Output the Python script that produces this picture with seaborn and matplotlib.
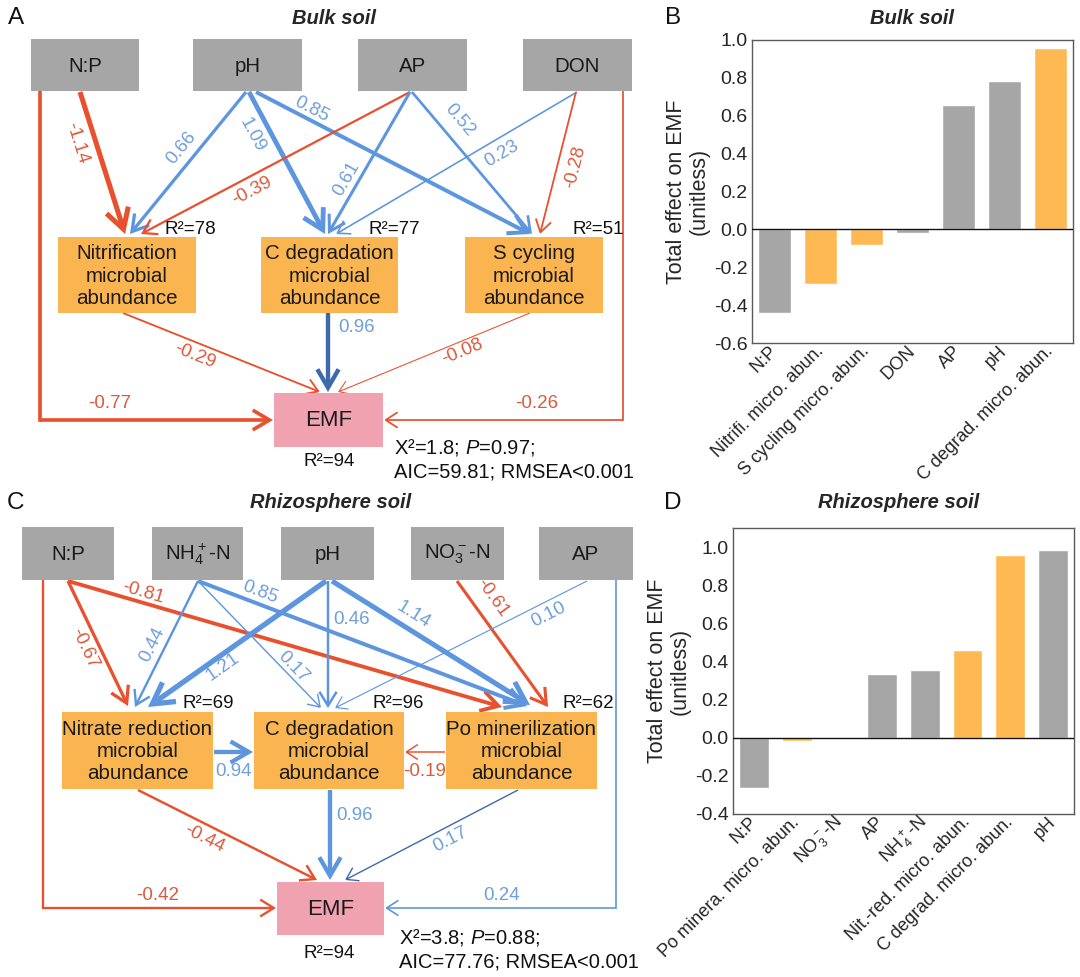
import numpy as np
import pandas as pd
import matplotlib
matplotlib.use("Agg")
import matplotlib.pyplot as plt
import seaborn as sns
from matplotlib.patches import Rectangle, FancyArrowPatch

# ------------------------------------------------------------------ DATA
# Panel A (bulk soil SEM)
bulk_nodes = ["N:P", "pH", "AP", "DON",
              "Nitrification\nmicrobial\nabundance",
              "C degradation\nmicrobial\nabundance",
              "S cycling\nmicrobial\nabundance",
              "EMF"]
bulk_node_kind = ["soil", "soil", "soil", "soil", "micro", "micro", "micro", "emf"]
bulk_src = ["N:P", "N:P", "pH", "pH", "pH", "AP", "AP", "AP", "DON", "DON", "DON",
            "Nitrification\nmicrobial\nabundance",
            "C degradation\nmicrobial\nabundance",
            "S cycling\nmicrobial\nabundance"]
bulk_dst = ["Nitrification\nmicrobial\nabundance", "EMF",
            "Nitrification\nmicrobial\nabundance", "C degradation\nmicrobial\nabundance",
            "S cycling\nmicrobial\nabundance",
            "Nitrification\nmicrobial\nabundance", "C degradation\nmicrobial\nabundance",
            "S cycling\nmicrobial\nabundance",
            "C degradation\nmicrobial\nabundance", "S cycling\nmicrobial\nabundance", "EMF",
            "EMF", "EMF", "EMF"]
bulk_coef = [-1.14, -0.77, 0.66, 1.09, 0.85, -0.39, 0.61, 0.52, 0.23, -0.28, -0.26,
             -0.29, 0.96, -0.08]
bulk_r2 = [78, 77, 51, 94]
bulk_fit = ["X²=1.8; $P$=0.97;", "AIC=59.81; RMSEA<0.001"]

# Panel C (rhizosphere soil SEM)
rhizo_nodes = ["N:P", "NH$_4^+$-N", "pH", "NO$_3^-$-N", "AP",
               "Nitrate reduction\nmicrobial\nabundance",
               "C degradation\nmicrobial\nabundance",
               "Po minerilization\nmicrobial\nabundance",
               "EMF"]
rhizo_node_kind = ["soil", "soil", "soil", "soil", "soil", "micro", "micro", "micro", "emf"]
NR = "Nitrate reduction\nmicrobial\nabundance"
CD = "C degradation\nmicrobial\nabundance"
PO = "Po minerilization\nmicrobial\nabundance"
rhizo_src = ["N:P", "N:P", "N:P", "NH$_4^+$-N", "NH$_4^+$-N", "NH$_4^+$-N",
             "pH", "pH", "pH", "NO$_3^-$-N", "AP", "AP", NR, PO, NR, CD, PO]
rhizo_dst = [NR, PO, "EMF", NR, CD, PO, NR, CD, PO, PO, CD, "EMF", CD, CD,
             "EMF", "EMF", "EMF"]
rhizo_coef = [-0.67, -0.81, -0.42, 0.44, 0.17, 0.85, 1.21, 0.46, 1.14, -0.61,
              0.10, 0.24, 0.94, -0.19, -0.44, 0.96, 0.17]
rhizo_r2 = [69, 96, 62, 94]
rhizo_fit = ["X²=3.8; $P$=0.88;", "AIC=77.76; RMSEA<0.001"]

# Panel B (total effects, bulk soil)
bulk_cats = ["N:P", "Nitrifi. micro. abun.", "S cycling micro. abun.", "DON",
             "AP", "pH", "C degrad. micro. abun."]
bulk_effect = [-0.44, -0.29, -0.083, -0.017, 0.655, 0.785, 0.958]
bulk_group = ["soil", "micro", "micro", "soil", "soil", "soil", "micro"]

# Panel D (total effects, rhizosphere soil)
rhizo_cats = ["N:P", "Po minera. micro. abun.", "NO$_3^-$-N", "AP", "NH$_4^+$-N",
              "Nit.-red. micro. abun.", "C degrad. micro. abun.", "pH"]
rhizo_effect = [-0.265, -0.015, 0.005, 0.333, 0.356, 0.462, 0.956, 0.986]
rhizo_group = ["soil", "micro", "soil", "soil", "soil", "micro", "micro", "soil"]

# ------------------------------------------------------------------ STYLE / LAYOUT
sns.set_style("white")
plt.rcParams["font.family"] = ["Liberation Sans", "DejaVu Sans"]
plt.rcParams["mathtext.fontset"] = "custom"
plt.rcParams["mathtext.rm"] = "Liberation Sans"
plt.rcParams["mathtext.it"] = "Liberation Sans:italic"
plt.rcParams["mathtext.bf"] = "Liberation Sans:bold"
plt.rcParams["axes.unicode_minus"] = False

C_RED = "#E8502E"
C_RED_T = "#DB5A3D"
C_BLUE = "#5D96DF"
C_BLUE_T = "#6E9FDA"
C_DARK = "#3F69AD"
BOX_COL = {"soil": "#A6A6A6", "micro": "#FAB550", "emf": "#F0A2B0"}
BAR_PAL = {"soil": "#A6A6A6", "micro": "#FFB953"}

# node boxes in pixel coordinates (x0, y0, x1, y1)
bulk_boxes = [(31, 39, 139, 91), (193, 39, 302, 91), (358, 39, 467, 91), (523, 39, 632, 91),
              (58, 237, 196, 313), (261, 237, 398, 313), (465, 237, 603, 313),
              (274, 393, 383, 447)]
rhizo_boxes = [(22, 527, 114, 580), (152, 527, 243, 580), (281, 527, 374, 580),
               (411, 527, 504, 580), (539, 527, 633, 580),
               (62, 712, 213, 789), (254, 712, 404, 789), (446, 712, 597, 789),
               (277, 882, 384, 935)]

# edge geometry: polyline points, label position, dark colour flag
bulk_geom = [
    dict(pts=[(80, 92), (125, 234)], lab=(77, 143)),
    dict(pts=[(40, 91), (40, 420), (273, 420)], lab=(110, 404)),
    dict(pts=[(246, 92), (130, 234)], lab=(181, 148)),
    dict(pts=[(249, 92), (325, 234)], lab=(252, 135)),
    dict(pts=[(256, 92), (530, 234)], lab=(312, 109)),
    dict(pts=[(410, 92), (141, 234)], lab=(252, 191)),
    dict(pts=[(410, 92), (328, 234)], lab=(347, 179)),
    dict(pts=[(412, 92), (532, 234)], lab=(460, 120)),
    dict(pts=[(577, 92), (336, 234)], lab=(502, 154)),
    dict(pts=[(576, 92), (540, 234)], lab=(575, 167)),
    dict(pts=[(623, 91), (623, 420), (384, 420)], lab=(537, 404)),
    dict(pts=[(123, 313), (320, 392)], lab=(195, 356)),
    dict(pts=[(328, 313), (328, 392)], lab=(357, 328), dark=True),
    dict(pts=[(530, 313), (338, 392)], lab=(462, 352)),
]
rhizo_geom = [
    dict(pts=[(68, 581), (128, 706)], lab=(85, 648)),
    dict(pts=[(68, 581), (502, 707)], lab=(143, 593)),
    dict(pts=[(43, 580), (43, 908), (276, 908)], lab=(158, 896)),
    dict(pts=[(198, 581), (135, 707)], lab=(152, 645)),
    dict(pts=[(198, 581), (321, 708)], lab=(293, 667)),
    dict(pts=[(198, 581), (527, 706)], lab=(260, 592)),
    dict(pts=[(326, 581), (148, 707)], lab=(223, 667)),
    dict(pts=[(328, 581), (328, 708)], lab=(352, 620)),
    dict(pts=[(332, 581), (530, 705)], lab=(413, 615)),
    dict(pts=[(457, 581), (548, 707)], lab=(492, 598)),
    dict(pts=[(587, 581), (335, 708)], lab=(549, 615)),
    dict(pts=[(616, 580), (616, 908), (385, 908)], lab=(502, 896)),
    dict(pts=[(214, 752), (253, 752)], lab=(233, 771)),
    dict(pts=[(445, 752), (405, 752)], lab=(425, 772)),
    dict(pts=[(138, 790), (317, 880)], lab=(204, 839)),
    dict(pts=[(330, 790), (330, 880)], lab=(355, 816)),
    dict(pts=[(518, 790), (345, 880)], lab=(450, 840), dark=True),
]
bulk_r2_pos = [(165, 229, "left"), (368, 229, "left"), (572, 229, "left"), (329, 462, "center")]
rhizo_r2_pos = [(182, 703, "left"), (372, 703, "left"), (563, 703, "left"), (329, 953, "center")]
bulk_fit_pos = [(394, 448), (394, 472)]
rhizo_fit_pos = [(399, 937), (399, 962)]

W, H = 1080, 977
fig = plt.figure(figsize=(W / 100, H / 100), dpi=100)
fig.patch.set_facecolor("white")

ax_d = fig.add_axes([0, 0, 1, 1], zorder=0)
ax_d.set_xlim(0, W)
ax_d.set_ylim(H, 0)
ax_d.axis("off")
ax_d.patch.set_alpha(0)


def lw_of(c):
    return 0.55 + 2.7 * abs(c)


def draw_sem(nodes, kinds, boxes, src, dst, coef, geom, r2, r2_pos, fit, fit_pos):
    for name, kind, (x0, y0, x1, y1) in zip(nodes, kinds, boxes):
        ax_d.add_patch(Rectangle((x0, y0), x1 - x0, y1 - y0, facecolor=BOX_COL[kind],
                                 edgecolor="none", zorder=2))
        ax_d.text((x0 + x1) / 2, (y0 + y1) / 2 + 1, name, ha="center", va="center",
                  fontsize=16 if kind == "emf" else 14.8, color="#1a1a1a",
                  linespacing=1.22, zorder=3)
    for s, d, c, g in zip(src, dst, coef, geom):
        pts = g["pts"]
        if g.get("dark"):
            col = C_DARK
        else:
            col = C_RED if c < 0 else C_BLUE
        lw = lw_of(c)
        if len(pts) > 2:
            xs = [p[0] for p in pts[:-1]]
            ys = [p[1] for p in pts[:-1]]
            ax_d.plot(xs, ys, color=col, lw=lw, solid_capstyle="projecting",
                      solid_joinstyle="miter", zorder=1)
        p0, p1 = pts[-2], pts[-1]
        hl = 7.0 + 6.5 * abs(c)
        hw = 4.8 + 3.0 * abs(c)
        ax_d.add_patch(FancyArrowPatch(p0, p1,
                                       arrowstyle=f"->,head_length={hl:.2f},head_width={hw:.2f}",
                                       lw=lw, color=col, shrinkA=0, shrinkB=0,
                                       mutation_scale=1, capstyle="butt",
                                       joinstyle="miter", zorder=1))
        a0, a1 = pts[0], pts[1]
        dx, dy = a1[0] - a0[0], a1[1] - a0[1]
        if len(pts) > 2 or abs(dx) < 1 or abs(dy) < 1:
            rot = 0
        else:
            rot = np.degrees(np.arctan2(-dy, dx))
            if rot > 90:
                rot -= 180
            if rot < -90:
                rot += 180
        ax_d.text(g["lab"][0], g["lab"][1], f"{c:.2f}", ha="center", va="center",
                  rotation=rot, rotation_mode="anchor", fontsize=13.5,
                  color=C_RED_T if c < 0 else C_BLUE_T, zorder=4)
    for v, (x, y, ha) in zip(r2, r2_pos):
        ax_d.text(x, y, f"R²={v}", ha=ha, va="center", fontsize=13.5, color="#111111", zorder=4)
    for line, (x, y) in zip(fit, fit_pos):
        ax_d.text(x, y, line, ha="left", va="center", fontsize=14.5, color="#111111", zorder=4)


draw_sem(bulk_nodes, bulk_node_kind, bulk_boxes, bulk_src, bulk_dst, bulk_coef,
         bulk_geom, bulk_r2, bulk_r2_pos, bulk_fit, bulk_fit_pos)
draw_sem(rhizo_nodes, rhizo_node_kind, rhizo_boxes, rhizo_src, rhizo_dst, rhizo_coef,
         rhizo_geom, rhizo_r2, rhizo_r2_pos, rhizo_fit, rhizo_fit_pos)

# titles and panel letters
TITLE_KW = dict(ha="center", va="center", fontsize=14.5, style="italic", weight="bold")
ax_d.text(334, 18, "Bulk soil", **TITLE_KW)
ax_d.text(331, 503, "Rhizosphere soil", **TITLE_KW)
ax_d.text(912, 18, "Bulk soil", **TITLE_KW)
ax_d.text(899, 503, "Rhizosphere soil", **TITLE_KW)
for letter, (x, y) in zip("ABCD", [(16, 18), (673, 18), (16, 503), (673, 503)]):
    ax_d.text(x, y, letter, ha="center", va="center", fontsize=17.5, color="#111111")


def bar_panel(rect, cats, vals, groups, ylim, yticks, width):
    ax = fig.add_axes(rect, zorder=2)
    df = pd.DataFrame({"cat": cats, "val": vals, "grp": groups})
    sns.barplot(data=df, x="cat", y="val", hue="grp", palette=BAR_PAL, order=cats,
                dodge=False, width=width, legend=False, ax=ax, saturation=1)
    ax.axhline(0, color="#111111", lw=1.0, zorder=3)
    ax.set_ylim(*ylim)
    ax.set_yticks(yticks)
    ax.set_yticklabels([f"{t:.1f}" for t in yticks], fontsize=14)
    ax.set_xlabel("")
    ax.set_ylabel("Total effect on EMF\n(unitless)", fontsize=15.5, linespacing=1.1,
                  labelpad=3)
    ax.set_xticks(range(len(cats)))
    ax.set_xticklabels(cats, rotation=45, ha="right", va="center",
                       rotation_mode="anchor", fontsize=13)
    ax.tick_params(axis="x", length=0, pad=4)
    ax.tick_params(axis="y", length=0, pad=3)
    for sp in ax.spines.values():
        sp.set_visible(True)
        sp.set_color("#5a5a5a")
        sp.set_linewidth(1.0)
    ax.set_xlim(-0.5, len(cats) - 0.5)
    return ax


bar_panel([752 / W, 1 - 343 / H, (1073 - 752) / W, (343 - 40) / H],
          bulk_cats, bulk_effect, bulk_group, (-0.6, 1.0),
          [-0.6, -0.4, -0.2, 0.0, 0.2, 0.4, 0.6, 0.8, 1.0], 0.72)
bar_panel([733 / W, 1 - 814 / H, (1074 - 733) / W, (814 - 528) / H],
          rhizo_cats, rhizo_effect, rhizo_group, (-0.4, 1.1),
          [-0.4, -0.2, 0.0, 0.2, 0.4, 0.6, 0.8, 1.0], 0.70)

fig.savefig("out.png", dpi=100, facecolor="white")
